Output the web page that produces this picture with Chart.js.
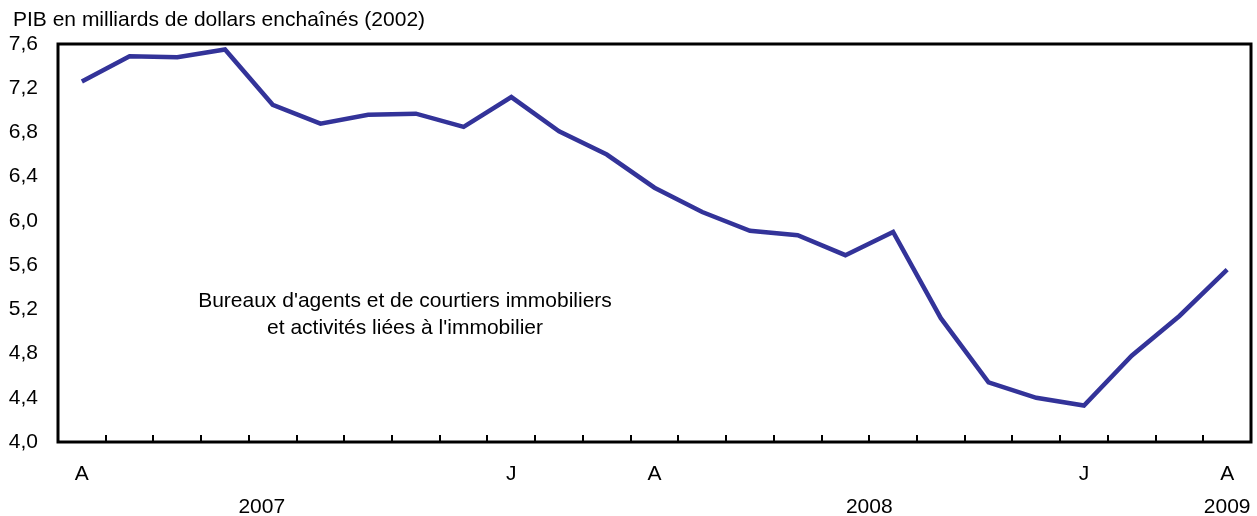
<!DOCTYPE html>
<html>
<head>
<meta charset="utf-8">
<script src="https://cdn.jsdelivr.net/npm/chart.js@4"></script>
<style>
  html, body { margin: 0; padding: 0; background: #fff; }
  #wrap { position: relative; width: 1257px; height: 516px; }
</style>
</head>
<body>
<div id="wrap"><canvas id="g-pib"></canvas></div>
<script>
// Mois d'avril 2007 à avril 2009
var mois = ["A","M","J","J","A","S","O","N","D",
            "J","F","M","A","M","J","J","A","S","O","N","D",
            "J","F","M","A"];
// Étiquettes affichées sous l'axe (vide = pas d'étiquette)
var etiquettes = ["A","","","","","","","","",
                  "J","","","A","","","","","","","","",
                  "J","","","A"];
var pib = [7.26, 7.49, 7.48, 7.55, 7.05, 6.88, 6.96, 6.97, 6.85,
           7.12, 6.81, 6.60, 6.30, 6.08, 5.91, 5.87, 5.69, 5.90, 5.12,
           4.54, 4.40, 4.33, 4.78, 5.14, 5.56];
var annees = ["2007", "2008", "2009"];
var anneesPos = [3.77, 16.5, 24];   // index (fractionnaire) de la catégorie sous laquelle l'année est centrée
var titreY = "PIB en milliards de dollars enchaînés (2002)";
var noteSerie = ["Bureaux d'agents et de courtiers immobiliers", "et activités liées à l'immobilier"];

var FONT = "'Liberation Sans', Arial, Helvetica, sans-serif";

var decor = {
  id: "decor",
  afterDraw: function(chart) {
    var ctx = chart.ctx, a = chart.chartArea, x = chart.scales.x;
    ctx.save();
    // cadre
    ctx.strokeStyle = "#000"; ctx.lineWidth = 3;
    ctx.strokeRect(a.left, a.top, a.right - a.left, a.bottom - a.top);
    // petites marques entre les mois, vers l'intérieur
    ctx.lineWidth = 2;
    var w = x.getPixelForValue(1) - x.getPixelForValue(0);
    for (var i = 1; i < mois.length; i++) {
      var px = Math.round(x.getPixelForValue(i) - w / 2);
      ctx.beginPath(); ctx.moveTo(px, a.bottom); ctx.lineTo(px, a.bottom - 7); ctx.stroke();
    }
    ctx.fillStyle = "#000";
    ctx.font = "21px " + FONT;
    // années
    ctx.textAlign = "center"; ctx.textBaseline = "middle";
    for (var j = 0; j < annees.length; j++) {
      var yx = x.getPixelForValue(0) + anneesPos[j] * w;
      ctx.fillText(annees[j], yx, 507);
    }
    // titre de l'axe
    ctx.textAlign = "left";
    ctx.fillText(titreY, 13, 20);
    // note de la série
    ctx.textAlign = "center";
    ctx.fillText(noteSerie[0], 405, 301);
    ctx.fillText(noteSerie[1], 405, 328);
    ctx.restore();
  }
};

new Chart(document.getElementById("g-pib"), {
  type: "line",
  data: {
    labels: mois,
    datasets: [{
      data: pib, borderColor: "#333399", borderWidth: 4.5,
      pointRadius: 0, tension: 0, fill: false, borderJoinStyle: "miter"
    }]
  },
  options: {
    responsive: true, maintainAspectRatio: false, animation: false,
    layout: { padding: { top: 44, right: 6, left: 0, bottom: 0 } },
    plugins: { legend: { display: false }, tooltip: { enabled: false } },
    scales: {
      x: {
        offset: true,
        grid: { display: false, drawTicks: false }, border: { display: false },
        ticks: {
          autoSkip: false, maxRotation: 0, padding: 20, color: "#000",
          font: { size: 21, family: FONT },
          callback: function(v, i) { return etiquettes[i]; }
        },
        afterFit: function(s) { s.height = 74; }
      },
      y: {
        min: 4.0, max: 7.6,
        grid: { display: false, drawTicks: false }, border: { display: false },
        ticks: {
          stepSize: 0.4, padding: 20, color: "#000",
          font: { size: 21, family: FONT },
          callback: function(v) { return (Math.round(v * 10) / 10).toFixed(1).replace(".", ","); }
        },
        afterFit: function(s) { s.width = 58; }
      }
    }
  },
  plugins: [decor]
});
</script>
</body>
</html>
